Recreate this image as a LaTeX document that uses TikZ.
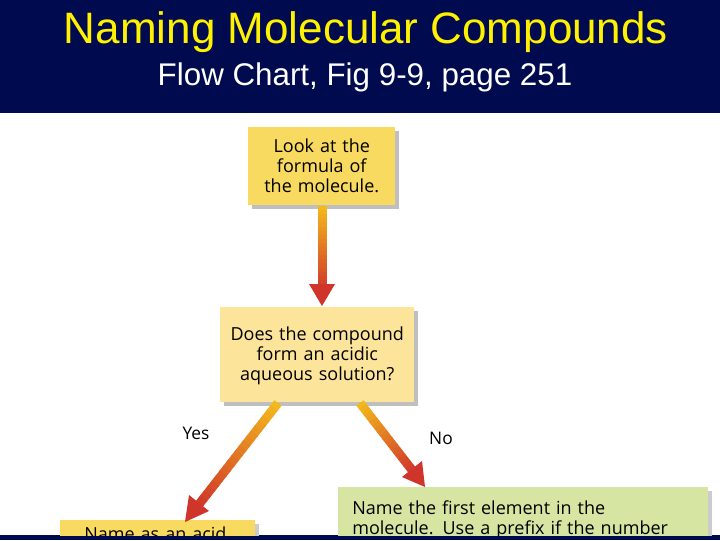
\documentclass[tikz,border=0pt]{standalone}
\usepackage{fontspec}
\setmainfont{Liberation Sans}
\newfontfamily\boxfont{Open Sans}
\usetikzlibrary{arrows.meta,calc}
\definecolor{navy}{HTML}{000B4F}
\definecolor{ybox}{HTML}{F9DA60}
\definecolor{lybox}{HTML}{FCE49A}
\definecolor{gbox}{HTML}{D6E6A2}
\definecolor{ar1}{HTML}{F2B81C}
\definecolor{ar2}{HTML}{D0352B}
\begin{document}
\begin{tikzpicture}[x=0.75pt,y=-0.75pt,
  bx/.style={draw=none,anchor=north west,inner sep=0pt,font=\boxfont\fontsize{13.5}{15}\selectfont,align=center},
  lbl/.style={font=\boxfont\fontsize{13}{14}\selectfont}]
\useasboundingbox (0,0) rectangle (720,540);
\fill[navy] (0,0) rectangle (720,540);
\fill[white] (0,113) rectangle (720,535);
\node[text=yellow,font=\fontsize{33}{35}\selectfont] (title) at (366,32) {Naming Molecular Compounds};
\node[text=white,font=\fontsize{23.5}{25}\selectfont] (sub) at (365,77) {Flow Chart, Fig 9-9, page 251};
\begin{scope}
\clip (0,113) rectangle (720,535);
% shadows
\fill[black!25] (252,131) rectangle (399,209);
\fill[black!25] (224,311) rectangle (418,406);
\fill[black!20] (342,491) rectangle (712,545);
\fill[black!20] (64,524) rectangle (259,545);
\fill[ybox] (248,127) rectangle (395,205);
\node[bx,text width=147*0.75pt] (b1) at (248,139) {Look at the\\formula of\\the molecule.};
\fill[lybox] (220,307) rectangle (414,402);
\node[bx,text width=194*0.75pt] (b2) at (220,327) {Does the compound\\form an acidic\\aqueous solution?};
\fill[gbox] (338,487) rectangle (708,545);
\node[bx,align=left,text width=340*0.75pt] (b3) at (352,500) {Name the first element in the\\molecule. Use a prefix if the number};
\fill[ybox] (60,520) rectangle (255,545);
\node[bx,text width=195*0.75pt] (b4) at (60,527) {Name as an acid.};
% arrows with gradient shafts
\foreach \i in {0,...,19}{
  \pgfmathsetmacro\c{100-\i*5}
  \pgfmathsetmacro\ta{\i/20}\pgfmathsetmacro\tb{(\i+1.2)/20}
  \draw[line width=9*0.75pt,color=ar1!\c!ar2] ($(322,206)!\ta!(322,288)$) -- ($(322,206)!\tb!(322,288)$);
  \draw[line width=9*0.75pt,color=ar1!\c!ar2] ($(278,403)!\ta!(200,503)$) -- ($(278,403)!\tb!(200,503)$);
  \draw[line width=9*0.75pt,color=ar1!\c!ar2] ($(360,403)!\ta!(412,470)$) -- ($(360,403)!\tb!(412,470)$);
}
\fill[ar2] (309,284) -- (335,284) -- (322,306) -- cycle;
\fill[ar2] (189,495) -- (209,511) -- (185,522) -- cycle;
\fill[ar2] (402,477) -- (422,461) -- (425,487) -- cycle;
\end{scope}
\node[lbl] (yes) at (196,433) {Yes};
\node[lbl] (no) at (441,438) {No};
\end{tikzpicture}
\end{document}
